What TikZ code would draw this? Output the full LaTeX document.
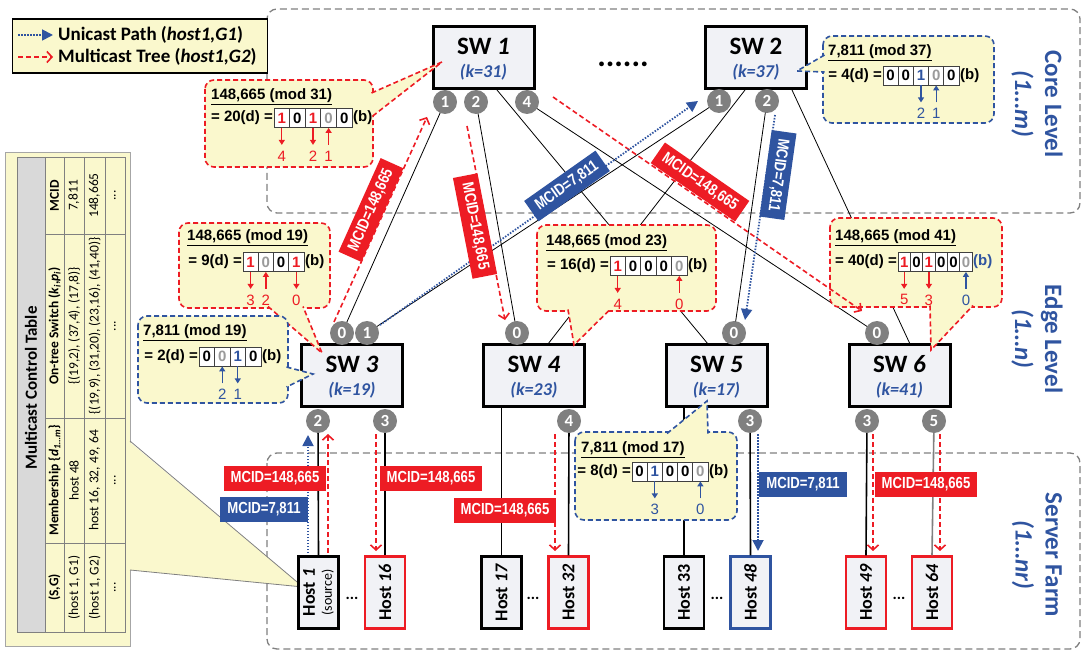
\documentclass[tikz,border=0pt]{standalone}
\usepackage{fontspec}
\setmainfont{Carlito}
\newfontfamily\arialf{Liberation Sans}
\newfontfamily\narrowf[FakeStretch=0.82]{Liberation Sans}
\usetikzlibrary{arrows.meta}
\definecolor{cyel}{RGB}{250,248,205}
\definecolor{cred}{RGB}{237,28,36}
\definecolor{cblue}{RGB}{47,84,160}
\definecolor{cgray}{RGB}{128,128,128}
\definecolor{dgray}{RGB}{155,155,155}
\definecolor{swfill}{RGB}{241,242,246}
\definecolor{tgray}{RGB}{217,217,217}
\newcommand\fsz[1]{\fontsize{#1}{#1}\selectfont}
\tikzset{
  region/.style={draw=cgray, line width=1.3pt, dash pattern=on 7pt off 4pt, rounded corners=10pt},
  swbox/.style={draw=black, line width=3pt, fill=swfill, minimum width=101pt, minimum height=62pt, inner sep=0pt},
  swname/.style={font=\bfseries\fsz{25}, inner sep=0pt},
  swk/.style={font=\bfseries\itshape\fsz{18}, text=cblue, inner sep=0pt},
  port/.style={circle, fill=cgray, text=white, font=\bfseries\fsz{17}, inner sep=0pt, minimum size=24pt},
  link/.style={draw=black, line width=0.8pt},
  hlink/.style={draw=black, line width=1.6pt},
  host/.style={draw=#1, line width=2.4pt, fill=swfill, rotate=90, minimum width=72pt, minimum height=40pt, inner sep=0pt, font=\bfseries\fontsize{18}{17}\selectfont, align=center},
  mcarr/.style={draw=cred, line width=1.6pt, dash pattern=on 5pt off 3pt, -{Straight Barb[length=5pt,width=11pt,line width=1.6pt]}},
  ucarr/.style={draw=cblue, line width=1.8pt, dash pattern=on 1.5pt off 1.5pt, -{Triangle[length=11pt,width=11pt]}},
  mcid/.style={fill=#1, text=white, font=\narrowf\bfseries\fsz{16}, inner xsep=7pt, inner ysep=0pt, minimum height=25pt},
  cline/.style={draw=#1, line width=1.6pt, dash pattern=on 5pt off 3pt},
  ctitle/.style={font=\arialf\bfseries\fsz{15}, inner sep=0pt, anchor=west},
  ctext/.style={font=\arialf\bfseries\fsz{15}, inner sep=0pt, anchor=east},
  bitcell/.style={draw=black!75, line width=0.8pt, fill=white, inner sep=0pt, minimum height=19pt, font=\arialf\bfseries\fsz{15}},
  bitlab/.style={font=\arialf\fsz{15}, inner sep=0pt, text=#1},
  bitarr/.style={draw=#1, line width=1.3pt, -{Triangle[length=5pt,width=6pt]}},
  lvl/.style={rotate=-90, align=center, font=\bfseries\fontsize{25}{30}\selectfont, text=cblue, inner sep=0pt},
  tabt/.style={rotate=90, font=\bfseries\fsz{17}, inner sep=0pt},
  tabh/.style={rotate=90, font=\bfseries\fsz{13.5}, inner sep=0pt},
  tabc/.style={rotate=90, font=\fsz{13.5}, inner sep=0pt},
  legtxt/.style={anchor=west, font=\bfseries\fsz{19}, inner sep=0pt},
}
\newcommand\callout[6]{%
  \draw[cline=#1, fill=cyel, rounded corners=9pt] #2 rectangle #3;
  \fill[cyel] #4 -- #5 -- #6 -- cycle;
  \draw[cline=#1] #4 -- #5 -- #6;
}
\newcommand\bitrow[5]{%
  \foreach \c/\d [count=\i] in {#5} {
    \node[bitcell, minimum width=#4pt, text=\c] (#1-\i) at ({#2+(\i-0.5)*#4}, #3) {\d};
  }
}
\newcommand\bitdown[3]{\draw[bitarr=#2] (#1.south) -- ++(0,17); \node[bitlab=#2] (#1-lab) at ([yshift=-28pt]#1.south) {#3};}
\newcommand\bitup[3]{\draw[bitarr=#2] ([yshift=-17pt]#1.south) -- (#1.south); \node[bitlab=#2] (#1-lab) at ([yshift=-28pt]#1.south) {#3};}
\begin{document}
\begin{tikzpicture}[x=1pt,y=-1pt]
\useasboundingbox (0,0) rectangle (1084,652);
% regions
\draw[region] (267,9) rectangle (1080,213);
\draw[region] (267,453) rectangle (1080,649);
% table
\draw[draw=cgray!70, line width=0.8pt, fill=cyel] (5,152) rectangle (130,646);
\fill[cyel] (128.5,441) -- (303,587) -- (128.5,570) -- cycle;
\draw[cgray, line width=0.8pt] (130,441) -- (303,587) -- (130,570);
\fill[tgray] (17,157) rectangle (45,632);
\draw[cgray, line width=0.8pt] (17,157) rectangle (125,632);
\foreach \xx in {45,64,84,105} \draw[cgray, line width=0.8pt] (\xx,157) -- (\xx,632);
\foreach \yy in {234,418,543} \draw[cgray, line width=0.8pt] (45,\yy) -- (125,\yy);
\node[tabt] (tt) at (31,388) {Multicast Control Table};
\node[tabh] (th1) at (54.5,587.5) {(S,G)};
\node[tabh] (th2) at (54.5,480.5) {Membership \{\textit{d}\textsubscript{\textit{1\ldots m}}\}};
\node[tabh] (th3) at (54.5,326) {On-tree Switch (\textit{k}\textsubscript{\textit{i}},\textit{p}\textsubscript{\textit{i}})};
\node[tabh] (th4) at (54.5,195.5) {MCID};
\node[tabc] (ta1) at (74,587.5) {(host 1, G1)};
\node[tabc] (ta2) at (74,480.5) {host 48};
\node[tabc] (ta3) at (74,326) {\{(19,2), (37,4), (17,8)\}};
\node[tabc] (ta4) at (74,195.5) {7,811};
\node[tabc] (tb1) at (94.5,587.5) {(host 1, G2)};
\node[tabc] (tb2) at (94.5,480.5) {host 16, 32, 49, 64};
\node[tabc] (tb3) at (94.5,326) {\{(19,9), (31,20), (23,16), (41,40)\}};
\node[tabc] (tb4) at (94.5,195.5) {148,665};
\node[tabc] (tc1) at (115,587.5) {...};
\node[tabc] (tc2) at (115,480.5) {...};
\node[tabc] (tc3) at (115,326) {...};
\node[tabc] (tc4) at (115,195.5) {...};
% switches
\node[swbox] (sw1) at (483.5,57.5) {};
\node[swbox] (sw2) at (756,57.5) {};
\node[swbox] (sw3) at (352,375.5) {};
\node[swbox] (sw4) at (534,375.5) {};
\node[swbox] (sw5) at (716.5,375.5) {};
\node[swbox] (sw6) at (899.5,375.5) {};
% link coordinates
\coordinate (sw1-3) at (497,90);
\coordinate (sw5-t) at (708,344);
\coordinate (sw2-a) at (745,90);
\coordinate (sw4-t) at (548,344);
\coordinate (sw2-b) at (792,90);
\coordinate (sw6-t) at (910,344);
\coordinate (sw4-b) at (501.5,407);
\coordinate (sw5-b) at (684,407);
% ports
\coordinate (c-p1-1) at (445,102);
\coordinate (c-p1-2) at (476,102);
\coordinate (c-p1-4) at (527,102);
\coordinate (c-p2-1) at (719,101);
\coordinate (c-p2-2) at (767,101);
\coordinate (c-p3-0) at (342,333);
\coordinate (c-p3-1) at (367,333);
\coordinate (c-p3-2) at (318,421);
\coordinate (c-p3-3) at (385,421);
\coordinate (c-p4-0) at (517,333);
\coordinate (c-p4-4) at (569,421);
\coordinate (c-p5-0) at (734,333);
\coordinate (c-p5-3) at (750,421);
\coordinate (c-p6-0) at (877,333);
\coordinate (c-p6-3) at (867,421);
\coordinate (c-p6-5) at (934,421);
% hosts
\node[host=black] (h1) at (318.5,592.5) {Host \textit{1}\\{\mdseries\fsz{14}(source)}};
\node[host=cred] (h16) at (385,592.5) {Host \textit{16}};
\node[host=black] (h17) at (501.5,592.5) {Host \textit{17}};
\node[host=cred] (h32) at (568.5,592.5) {Host \textit{32}};
\node[host=black] (h33) at (684,592.5) {Host 33};
\node[host=cblue] (h48) at (750.5,592.5) {Host \textit{48}};
\node[host=cred] (h49) at (866,592.5) {Host \textit{49}};
\node[host=cred] (h64) at (932,592.5) {Host \textit{64}};
\node[font=\bfseries\fsz{16}] (hd1) at (352,598) {...};
\node[font=\bfseries\fsz{16}] (hd2) at (533,598) {...};
\node[font=\bfseries\fsz{16}] (hd3) at (717,598) {...};
\node[font=\bfseries\fsz{16}] (hd4) at (899,598) {...};
% black links
\draw[link] (c-p1-1) -- (c-p3-0);
\draw[link] (c-p1-2) -- (c-p4-0);
\draw[link] (sw1-3) -- (sw5-t);
\draw[link] (c-p1-4) -- (c-p6-0);
\draw[link] (c-p2-1) -- (c-p3-1);
\draw[link] (sw2-a) -- (sw4-t);
\draw[link] (c-p2-2) -- (c-p5-0);
\draw[link] (sw2-b) -- (sw6-t);
\draw[hlink] (c-p3-2) -- (h1.east);
\draw[hlink] (c-p3-3) -- (h16.east);
\draw[hlink] (sw4-b) -- (h17.east);
\draw[hlink] (c-p4-4) -- (h32.east);
\draw[hlink] (sw5-b) -- (h33.east);
\draw[hlink] (c-p5-3) -- (h48.east);
\draw[hlink] (c-p6-3) -- (h49.east);
\draw[hlink, draw=cgray] (c-p6-5) -- (h64.east);
% redraw switch boxes over links
\node[swbox] (sw1b) at (sw1) {};
\node[swbox] (sw2b) at (sw2) {};
\node[swbox] (sw3b) at (sw3) {};
\node[swbox] (sw4b) at (sw4) {};
\node[swbox] (sw5b) at (sw5) {};
\node[swbox] (sw6b) at (sw6) {};
\node[swname] (sw1n) at ([yshift=11pt]sw1.center) {SW \textit{1}};
\node[swk] (sw1k) at ([yshift=-15pt]sw1.center) {(k=31)};
\node[swname] (sw2n) at ([yshift=11pt]sw2.center) {SW 2};
\node[swk] (sw2k) at ([yshift=-15pt]sw2.center) {(k=37)};
\node[swname] (sw3n) at ([yshift=11pt]sw3.center) {SW \textit{3}};
\node[swk] (sw3k) at ([yshift=-15pt]sw3.center) {(k=19)};
\node[swname] (sw4n) at ([yshift=11pt]sw4.center) {SW \textit{4}};
\node[swk] (sw4k) at ([yshift=-15pt]sw4.center) {(k=23)};
\node[swname] (sw5n) at ([yshift=11pt]sw5.center) {SW \textit{5}};
\node[swk] (sw5k) at ([yshift=-15pt]sw5.center) {(k=17)};
\node[swname] (sw6n) at ([yshift=11pt]sw6.center) {SW \textit{6}};
\node[swk] (sw6k) at ([yshift=-15pt]sw6.center) {(k=41)};
% port circles
\node[port] (p1-1) at (c-p1-1) {1};
\node[port] (p1-2) at (c-p1-2) {2};
\node[port] (p1-4) at (c-p1-4) {4};
\node[port] (p2-1) at (c-p2-1) {1};
\node[port] (p2-2) at (c-p2-2) {2};
\node[port] (p3-0) at (c-p3-0) {0};
\node[port] (p3-1) at (c-p3-1) {1};
\node[port] (p3-2) at (c-p3-2) {2};
\node[port] (p3-3) at (c-p3-3) {3};
\node[port] (p4-0) at (c-p4-0) {0};
\node[port] (p4-4) at (c-p4-4) {4};
\node[port] (p5-0) at (c-p5-0) {0};
\node[port] (p5-3) at (c-p5-3) {3};
\node[port] (p6-0) at (c-p6-0) {0};
\node[port] (p6-3) at (c-p6-3) {3};
\node[port] (p6-5) at (c-p6-5) {5};
% callout SW1
\callout{cred}{(205,80)}{(373,167)}{(371.5,93)}{(442,62)}{(371.5,117)}
\node[ctitle] (c1t) at (211,97) {\underline{148,665 (mod 31)}};
\node[ctext] (c1e) at (273,118) {= 20(d) =};
\bitrow{c1}{274}{118}{15.6}{cred/1,black/0,cred/1,dgray/0,black/0}
\node[ctitle] (c1b) at (353,118) {(b)};
\bitdown{c1-1}{cred}{4}
\bitdown{c1-3}{cred}{2}
\bitup{c1-4}{cred}{1}
% callout SW2
\callout{cblue}{(823,36)}{(994,123)}{(824.5,55)}{(797,71)}{(824.5,72)}
\node[ctitle] (c2t) at (828,53) {\underline{7,811 (mod 37)}};
\node[ctext] (c2e) at (882,75.5) {= 4(d) =};
\bitrow{c2}{883}{75.5}{15.2}{black/0,black/0,cblue/1,dgray/0,black/0}
\node[ctitle] (c2b) at (960,75.5) {(b)};
\bitdown{c2-3}{cblue}{2}
\bitup{c2-4}{cblue}{1}
% callout SW3 red
\callout{cred}{(179,223)}{(330,308)}{(268,306.5)}{(322,353)}{(303,306.5)}
\node[ctitle] (c3t) at (187,238) {\underline{148,665 (mod 19)}};
\node[ctext] (c3e) at (242,262) {= 9(d) =};
\bitrow{c3}{243}{262}{15.25}{cred/1,dgray/0,black/0,cred/1}
\node[ctitle] (c3b) at (305,262) {(b)};
\bitdown{c3-1}{cred}{3}
\bitup{c3-2}{cred}{2}
\bitdown{c3-4}{cred}{0}
% callout SW3 blue
\callout{cblue}{(138,316)}{(288,403)}{(286.5,367)}{(313,374)}{(286.5,387)}
\node[ctitle] (c4t) at (143,333) {\underline{7,811 (mod 19)}};
\node[ctext] (c4e) at (198,356.5) {= 2(d) =};
\bitrow{c4}{199}{356.5}{15.5}{black/0,dgray/0,cblue/1,black/0}
\node[ctitle] (c4b) at (262,356.5) {(b)};
\bitup{c4-2}{cblue}{2}
\bitdown{c4-3}{cblue}{1}
% callout SW4
\callout{cred}{(537,225)}{(716,311)}{(568,309.5)}{(574,345)}{(610,309.5)}
\node[ctitle] (c5t) at (546,243) {\underline{148,665 (mod 23)}};
\node[ctext] (c5e) at (609,266) {= 16(d) =};
\bitrow{c5}{610}{266}{15.4}{cred/1,black/0,black/0,black/0,dgray/0}
\node[ctitle] (c5b) at (688,266) {(b)};
\bitdown{c5-1}{cred}{4}
\bitup{c5-5}{cred}{0}
% callout SW6
\callout{cred}{(830,218)}{(1002,307)}{(930,305.5)}{(931,350)}{(973,305.5)}
\node[ctitle] (c6t) at (835,238) {\underline{148,665 (mod 41)}};
\node[ctext] (c6e) at (897,262) {= 40(d) =};
\bitrow{c6}{898}{262}{12.35}{cred/1,black/0,cred/1,black/0,black/0,dgray/0}
\node[ctitle, text=cblue] (c6b) at (973,262) {(b)};
\bitdown{c6-1}{cred}{5}
\bitdown{c6-3}{cred}{3}
\bitup{c6-6}{cblue}{0}
% callout SW5
\callout{cblue}{(575,432)}{(737,520)}{(667,433.5)}{(707,401)}{(708,433.5)}
\node[ctitle] (c7t) at (581,450) {\underline{7,811 (mod 17)}};
\node[ctext] (c7e) at (631,471.5) {= 8(d) =};
\bitrow{c7}{632}{471.5}{15.2}{black/0,cblue/1,black/0,black/0,dgray/0}
\node[ctitle] (c7b) at (709,471.5) {(b)};
\bitdown{c7-2}{cblue}{3}
\bitup{c7-5}{cblue}{0}
% coloured paths
\coordinate (r1s) at (328,553); \coordinate (r1e) at (328,434);
\coordinate (r2s) at (376,434); \coordinate (r2e) at (376,551);
\coordinate (r3s) at (334,322); \coordinate (r3e) at (427,117);
\coordinate (r4s) at (467,126); \coordinate (r4e) at (505,320);
\coordinate (r5s) at (553,97);  \coordinate (r5e) at (862,311);
\coordinate (r6s) at (555,434); \coordinate (r6e) at (555,551);
\coordinate (r7s) at (873,434); \coordinate (r7e) at (873,551);
\coordinate (r8s) at (940,434); \coordinate (r8e) at (940,551);
\coordinate (b1s) at (308,553); \coordinate (b1e) at (308,435);
\coordinate (b2s) at (380,325); \coordinate (b2e) at (698,101);
\coordinate (b3s) at (775,115); \coordinate (b3e) at (745,320);
\coordinate (b4s) at (758,434); \coordinate (b4e) at (758,551);
\draw[mcarr] (r1s) -- (r1e);
\draw[mcarr] (r2s) -- (r2e);
\draw[mcarr] (r3s) -- (r3e);
\draw[mcarr] (r4s) -- (r4e);
\draw[mcarr] (r5s) -- (r5e);
\draw[mcarr] (r6s) -- (r6e);
\draw[mcarr] (r7s) -- (r7e);
\draw[mcarr] (r8s) -- (r8e);
\draw[ucarr] (b1s) -- (b1e);
\draw[ucarr] (b2s) -- (b2e);
\draw[ucarr] (b3s) -- (b3e);
\draw[ucarr] (b4s) -- (b4e);
% MCID labels
\node[mcid=cred, rotate=65.8] (l1) at (371,210) {MCID=148,665};
\node[mcid=cred, rotate=-79] (l2) at (475,226) {MCID=148,665};
\node[mcid=cblue, rotate=35.2] (l3) at (567,186) {MCID=7,811};
\node[mcid=cred, rotate=-34.7] (l4) at (700,182) {MCID=148,665};
\node[mcid=cblue, rotate=-98] (l5) at (778,175) {MCID=7,811};
\node[mcid=cred] (l6) at (275,478) {MCID=148,665};
\node[mcid=cblue] (l7) at (264,509) {MCID=7,811};
\node[mcid=cred] (l8) at (431,478) {MCID=148,665};
\node[mcid=cred] (l9) at (505,510) {MCID=148,665};
\node[mcid=cblue] (l10) at (803,484) {MCID=7,811};
\node[mcid=cred] (l11) at (926,484) {MCID=148,665};
% legend
\node[draw=black, line width=1.2pt, fill=cyel, minimum width=255pt, minimum height=54pt, anchor=north west, inner sep=0pt] (legend) at (11.5,18.5) {};
\coordinate (lg1s) at (18,35); \coordinate (lg1e) at (53,35);
\coordinate (lg2s) at (18,57); \coordinate (lg2e) at (53,57);
\draw[ucarr] (lg1s) -- (lg1e);
\draw[mcarr] (lg2s) -- (lg2e);
\node[legtxt] (lgt1) at (58,35) {Unicast Path (\textit{host1,G1})};
\node[legtxt] (lgt2) at (58,57) {Multicast Tree (\textit{host1,G2})};
% dots between core switches
\node[font=\bfseries\fsz{32}, inner sep=0pt] (cdots) at (623,64) {......};
% level labels
\node[lvl] (lvcore) at (1037,104) {Core Level\\\textit{(1\ldots m)}};
\node[lvl] (lvedge) at (1037,339) {Edge Level\\\textit{(1\ldots n)}};
\node[lvl] (lvfarm) at (1037,555) {Server Farm\\\textit{(1\ldots nr)}};
\end{tikzpicture}
\end{document}
